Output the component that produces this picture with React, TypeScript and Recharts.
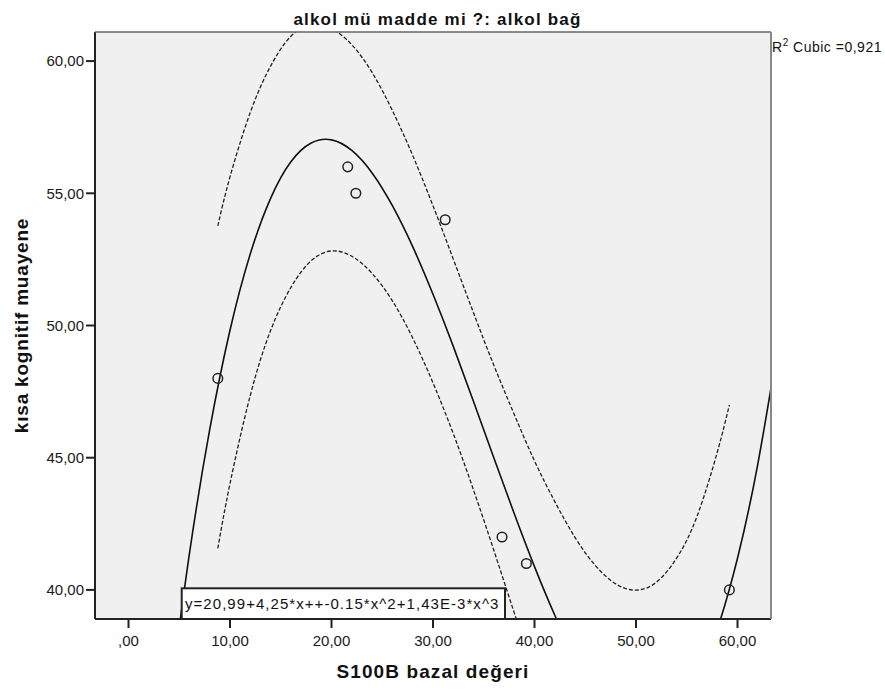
import { ComposedChart, Line, Scatter, XAxis, YAxis, CartesianGrid, Label } from 'recharts';

const FONT = '"Liberation Sans", Arial, sans-serif';

// observed cases (S100B vs kisa kognitif muayene)
const obsX = [8.8, 21.6, 22.4, 31.2, 36.8, 39.2, 59.2];
const obsY = [48, 56, 55, 54, 42, 41, 40];

// cubic fit line
const fitX = [4, 6, 8, 10, 12, 14, 16, 18, 20, 22, 24, 26, 28, 30, 32, 34, 36, 38, 40, 42, 44, 46, 48, 50, 52, 54, 56, 58, 60, 62, 64];
const fitY = [35.67, 41.36, 46.06, 49.82, 52.71, 54.81, 56.19, 56.9, 57.02, 56.62, 55.77, 54.53, 52.98, 51.18, 49.21, 47.12, 44.99, 42.89, 40.88, 39.04, 37.43, 36.12, 35.18, 34.69, 34.69, 35.3, 36.52, 38.5, 41.2, 44.76, 49.28];

// dashed confidence band, upper side
const upperX = [8.8, 10, 12, 14, 16, 18, 20, 22, 24, 26, 28, 30, 32, 34, 36, 38, 40, 42, 44, 46, 48, 50, 52, 54, 56, 58, 59.2];
const upperY = [53.77, 55.62, 58.06, 59.81, 60.94, 61.35, 61.22, 60.62, 59.57, 58.13, 56.43, 54.53, 52.51, 50.47, 48.49, 46.64, 44.88, 43.34, 41.98, 40.92, 40.23, 39.99, 40.29, 41.2, 42.77, 45.2, 47.0];

// dashed confidence band, lower side
const lowerX = [8.8, 10, 12, 14, 16, 18, 20, 22, 24, 26, 28, 30, 32, 34, 36, 38, 40, 42];
const lowerY = [41.57, 44.02, 47.36, 49.81, 51.44, 52.45, 52.82, 52.62, 51.97, 50.93, 49.53, 47.83, 45.91, 43.77, 41.49, 39.14, 36.88, 34.74];

const xTicks = [0, 10, 20, 30, 40, 50, 60];
const yTicks = [40, 45, 50, 55, 60];

const zip = (xs: number[], ys: number[]) => xs.map((x, i) => ({ x, y: ys[i] }));

const obsData = zip(obsX, obsY);
const fitData = zip(fitX, fitY);
const upperData = zip(upperX, upperY);
const lowerData = zip(lowerX, lowerY);

const fmt = (v: number) => (v === 0 ? ',00' : v.toFixed(2).replace('.', ','));

const Ring = (props: any) => (
    <circle cx={props.cx} cy={props.cy} r={4.8} fill="none" stroke="#222" strokeWidth={1.5} />
);

export default function App() {
    return (
        <div style={{ position: 'absolute', left: 0, top: 0, width: 885, height: 691, background: '#fff' }}>
            <ComposedChart width={885} height={691} margin={{ top: 32, right: 114, bottom: 0, left: 0 }}>
                <CartesianGrid horizontal={false} vertical={false} fill="#f0f0f0" />
                <XAxis
                    type="number"
                    dataKey="x"
                    domain={[-3.3, 63.3]}
                    ticks={xTicks}
                    allowDataOverflow
                    tickFormatter={fmt}
                    height={72}
                    tickSize={9}
                    tickMargin={7}
                    axisLine={{ stroke: '#222', strokeWidth: 2 }}
                    tickLine={{ stroke: '#222', strokeWidth: 2 }}
                    tick={{ fill: '#1a1a1a', fontSize: 15, fontFamily: FONT }}
                >
                    <Label
                        content={() => (
                            <text x={433} y={678} textAnchor="middle" fontFamily={FONT} fontSize={19} fontWeight="bold" letterSpacing={1.1} fill="#111">
                                S100B bazal değeri
                            </text>
                        )}
                    />
                </XAxis>
                <YAxis
                    type="number"
                    dataKey="y"
                    domain={[38.9, 61.1]}
                    ticks={yTicks}
                    allowDataOverflow
                    tickFormatter={fmt}
                    width={95}
                    tickSize={9}
                    tickMargin={2}
                    axisLine={{ stroke: '#222', strokeWidth: 2 }}
                    tickLine={{ stroke: '#222', strokeWidth: 2 }}
                    tick={{ fill: '#1a1a1a', fontSize: 15, fontFamily: FONT }}
                >
                    <Label
                        content={() => (
                            <text x={27.5} y={325.5} transform="rotate(-90 27.5 325.5)" textAnchor="middle" fontFamily={FONT} fontSize={19} fontWeight="bold" letterSpacing={0.8} fill="#111">
                                kısa kognitif muayene
                            </text>
                        )}
                    />
                </YAxis>

                <Line data={upperData} dataKey="y" type="natural" stroke="#222" strokeWidth={1.3} strokeDasharray="4 2" dot={false} activeDot={false} isAnimationActive={false} />
                <Line data={lowerData} dataKey="y" type="natural" stroke="#222" strokeWidth={1.3} strokeDasharray="4 2" dot={false} activeDot={false} isAnimationActive={false} />
                <Line data={fitData} dataKey="y" type="natural" stroke="#111" strokeWidth={1.6} dot={false} activeDot={false} isAnimationActive={false} />
                <Scatter data={obsData} dataKey="y" shape={Ring} isAnimationActive={false} />
            </ComposedChart>

            {/* frame, title and annotations */}
            <svg width={885} height={691} style={{ position: 'absolute', left: 0, top: 0, pointerEvents: 'none' }}>
                <line x1={95} y1={32} x2={771} y2={32} stroke="#666" strokeWidth={1.5} />
                <line x1={771} y1={32} x2={771} y2={619} stroke="#888" strokeWidth={2} />
                <text x={437.5} y={25} textAnchor="middle" fontFamily={FONT} fontSize={17} fontWeight="bold" letterSpacing={1.2} fill="#111">
                    alkol mü madde mi ?: alkol bağ
                </text>
                <text x={772} y={52} fontFamily={FONT} fontSize={14} letterSpacing={0.5} fill="#111">
                    R<tspan dy={-6} fontSize={10}>2</tspan>
                    <tspan dy={6}> Cubic =0,921</tspan>
                </text>
                <rect x={181.7} y={588.3} width={323.3} height={30.7} fill="#fff" stroke="#222" strokeWidth={2} />
                <text x={185} y={609} fontFamily={FONT} fontSize={15} letterSpacing={1.05} fill="#111">
                    y=20,99+4,25*x++-0.15*x^2+1,43E-3*x^3
                </text>
            </svg>
        </div>
    );
}
